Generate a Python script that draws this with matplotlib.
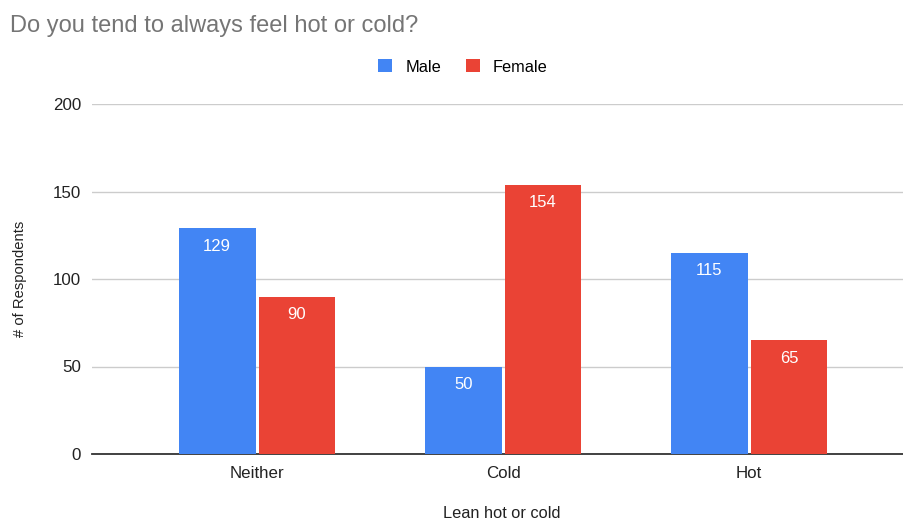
import numpy as np
import matplotlib.pyplot as plt

plt.rcParams['font.family'] = ['Liberation Sans', 'DejaVu Sans']

categories = ["Neither", "Cold", "Hot"]
male = [129, 50, 115]
female = [90, 154, 65]
yticks = [0, 50, 100, 150, 200]

fig = plt.figure(figsize=(9.04, 5.22), dpi=100)
ax = fig.add_axes([92 / 904, 1 - 454 / 522, 812 / 904, 350 / 522])

x = np.arange(len(categories))
w = 0.312
b1 = ax.bar(x - 0.162, male, w, color='#4285F4', label='Male', zorder=3)
b2 = ax.bar(x + 0.162, female, w, color='#EA4335', label='Female', zorder=3)

for bars in (b1, b2):
    for r in bars:
        ax.annotate(f"{int(r.get_height())}", (r.get_x() + r.get_width() / 2, r.get_height()),
                    xytext=(0, -13), textcoords='offset points', ha='center', va='center',
                    color='white', fontsize=12, zorder=4)

ax.set_xlim(-0.671, 2.63)
ax.set_ylim(0, 200)
ax.set_yticks(yticks)
ax.set_xticks(x)
ax.set_xticklabels(categories)
ax.tick_params(axis='both', length=0, labelsize=12.2, colors='#222222')
ax.tick_params(axis='y', pad=8)
ax.tick_params(axis='x', pad=9)
ax.grid(axis='y', color='#cccccc', linewidth=1, zorder=0)
for s in ('top', 'right', 'left'):
    ax.spines[s].set_visible(False)
ax.spines['bottom'].set_color('#333333')
ax.spines['bottom'].set_linewidth(1.3)
ax.spines['bottom'].set_zorder(2)

fig.text(502 / 904, 1 - 514 / 522, "Lean hot or cold", fontsize=11.8, color='#222222',
         ha='center', va='center')
fig.text(20 / 904, 1 - 279 / 522, "# of Respondents", rotation=90, fontsize=10.6,
         color='#222222', ha='center', va='center')

fig.text(10 / 904, 1 - 32 / 522, "Do you tend to always feel hot or cold?", fontsize=17,
         color='#757575', ha='left', va='baseline')

fig.legend(loc='center', bbox_to_anchor=(463 / 904, 1 - 67 / 522), ncol=2, frameon=False,
           fontsize=11.8, handlelength=0.85, handleheight=0.85, handletextpad=0.8,
           columnspacing=1.5)

fig.savefig("out.png", dpi=100)
